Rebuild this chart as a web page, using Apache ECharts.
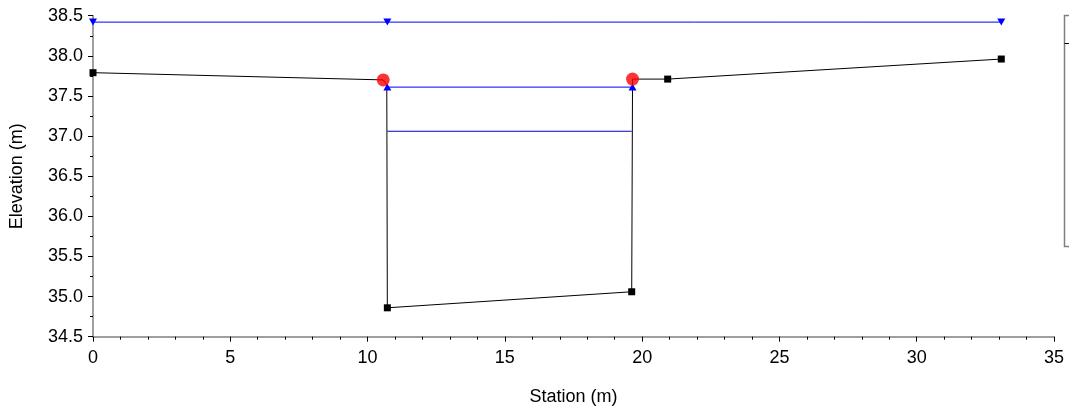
<!DOCTYPE html>
<html>
<head>
<meta charset="utf-8">
<script src="https://cdn.jsdelivr.net/npm/echarts@6/dist/echarts.min.js"></script>
<style>
html,body{margin:0;padding:0;background:#fff;}
#chart{width:1069px;height:412px;}
</style>
</head>
<body>
<div id="chart"></div>
<script>
// Ground profile (station m, elevation m)
const groundStations = [0, 10.57, 10.70, 10.72, 19.62, 19.65, 20.93, 33.08];
const groundElev     = [37.79, 37.70, 37.64, 34.86, 35.06, 37.71, 37.71, 37.96];
const groundSquare   = [true, false, false, true, true, false, true, true];
// Bank stations (red dots)
const bankStations = [10.57, 19.65];
const bankElev     = [37.70, 37.71];
// Upper water surface (blue, inverted triangles)
const wsTopStations = [0, 10.72, 33.08];
const wsTopElev     = [38.42, 38.42, 38.42];
// Channel water surface (blue, triangles)
const wsMidStations = [10.72, 19.65];
const wsMidElev     = [37.61, 37.61];
// Lower thin line (blue)
const wsLowStations = [10.72, 19.62];
const wsLowElev     = [37.06, 37.06];

const FONT = 'Liberation Sans, Arial, sans-serif';
const AXIS_COLOR = '#808080';

function pairs(xs, ys){ return xs.map((x,i)=>[x, ys[i]]); }

const chart = echarts.init(document.getElementById('chart'), null, {renderer:'canvas'});
chart.setOption({
  animation:false,
  backgroundColor:'#fff',
  grid:{left:90.7, right:15, top:15.7, bottom:75.3, containLabel:false},
  xAxis:{
    type:'value', min:0, max:35, interval:5,
    name:'Station (m)', nameLocation:'middle', nameGap:51,
    nameTextStyle:{fontFamily:FONT, fontSize:18, color:'#000'},
    axisLine:{show:true, onZero:false, lineStyle:{color:AXIS_COLOR, width:1.5}},
    axisTick:{show:true, inside:false, length:5, lineStyle:{color:'#000'}},
    minorTick:{show:true, splitNumber:5, length:3, lineStyle:{color:'#000'}},
    axisLabel:{fontFamily:FONT, fontSize:18, color:'#000', margin:12},
    splitLine:{show:false}
  },
  yAxis:{
    type:'value', min:34.5, max:38.5, interval:0.5,
    name:'Elevation (m)', nameLocation:'middle', nameGap:67, nameRotate:90,
    nameTextStyle:{fontFamily:FONT, fontSize:18, color:'#000'},
    axisLine:{show:true, onZero:false, lineStyle:{color:AXIS_COLOR, width:1.5}},
    axisTick:{show:true, inside:false, length:5, lineStyle:{color:'#000'}},
    minorTick:{show:true, splitNumber:2, length:3, lineStyle:{color:'#000'}},
    axisLabel:{fontFamily:FONT, fontSize:18, color:'#000', margin:10,
      formatter:v=>v.toFixed(1)},
    splitLine:{show:false}
  },
  series:[
    {
      type:'line', name:'WS top',
      data:pairs(wsTopStations, wsTopElev),
      lineStyle:{color:'#0000ff', width:1},
      itemStyle:{color:'#0000ff'},
      symbol:'triangle', symbolRotate:180, symbolSize:[8,7],
      z:3
    },
    {
      type:'line', name:'WS mid',
      data:pairs(wsMidStations, wsMidElev),
      lineStyle:{color:'#0000ff', width:1},
      itemStyle:{color:'#0000ff'},
      symbol:'triangle', symbolSize:[8,7],
      z:3
    },
    {
      type:'line', name:'WS low',
      data:pairs(wsLowStations, wsLowElev),
      lineStyle:{color:'#0000cc', width:1},
      symbol:'none',
      z:3
    },
    {
      type:'line', name:'Ground',
      data:groundStations.map((x,i)=>({value:[x, groundElev[i]], symbol: groundSquare[i] ? 'rect' : 'none'})),
      lineStyle:{color:'#000', width:1},
      itemStyle:{color:'#000'},
      symbolSize:7,
      z:2
    },
    {
      type:'scatter', name:'Bank Sta',
      data:pairs(bankStations, bankElev),
      itemStyle:{color:'#ff0000'},
      symbol:'circle', symbolSize:13,
      z:4
    }
  ],
  graphic:[
    {type:'rect', shape:{x:1064.5, y:15.5, width:30, height:231}, style:{fill:'none', stroke:'#808080', lineWidth:1.5}, silent:true},
    {type:'line', shape:{x1:1064.5, y1:43.5, x2:1069, y2:43.5}, style:{stroke:'#000', lineWidth:1}, silent:true}
  ]
});
</script>
</body>
</html>
